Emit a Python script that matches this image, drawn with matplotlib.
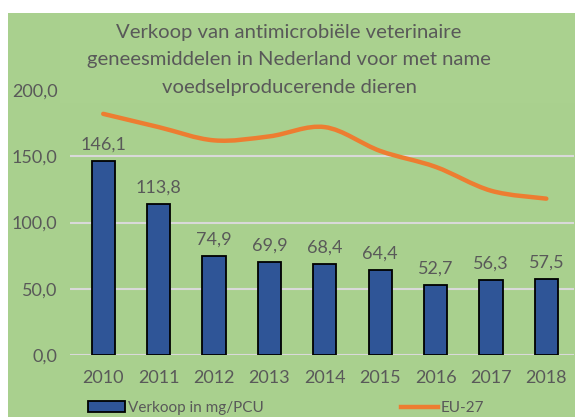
import matplotlib
matplotlib.use("Agg")
from matplotlib import pyplot as plt
from matplotlib.path import Path
from matplotlib.patches import PathPatch, Rectangle
from matplotlib.lines import Line2D

years = ["2010", "2011", "2012", "2013", "2014", "2015", "2016", "2017", "2018"]
verkoop = [146.1, 113.8, 74.9, 69.9, 68.4, 64.4, 52.7, 56.3, 57.5]
eu27 = [182, 172, 162, 165, 172, 154, 142, 124, 118]
title = ("Verkoop van antimicrobiële veterinaire\n"
         "geneesmiddelen in Nederland voor met name\n"
         "voedselproducerende dieren")

GREEN = "#A9D08E"
GREY = "#595959"
plt.rcParams["font.family"] = ["Lato", "DejaVu Sans"]

W, H = 575, 417
fig = plt.figure(figsize=(W / 100, H / 100), dpi=100, facecolor="white")
fig.patches.append(Rectangle((8 / W, 0), 1, (H - 13) / H, transform=fig.transFigure,
                             facecolor=GREEN, edgecolor="none", zorder=-10))

ax = fig.add_axes([70 / W, (H - 355) / H, (574 - 70) / W, (355 - 90) / H])
ax.set_facecolor("none")
x = list(range(len(years)))
bars = ax.bar(x, verkoop, width=0.42, color="#2F5597", edgecolor="black",
              linewidth=1.3, zorder=3)
for xi, v in zip(x, verkoop):
    ax.annotate(("%.1f" % v).replace(".", ","), (xi, v), xytext=(0, 6),
                textcoords="offset points", ha="center", va="bottom",
                fontsize=13, color=GREY)

# smoothed line like the spreadsheet one
pts = list(zip(x, eu27))
verts = [pts[0]]
codes = [Path.MOVETO]
for i in range(len(pts) - 1):
    p0 = pts[max(i - 1, 0)]
    p1 = pts[i]
    p2 = pts[i + 1]
    p3 = pts[min(i + 2, len(pts) - 1)]
    c1 = (p1[0] + (p2[0] - p0[0]) / 6, p1[1] + (p2[1] - p0[1]) / 6)
    c2 = (p2[0] - (p3[0] - p1[0]) / 6, p2[1] - (p3[1] - p1[1]) / 6)
    verts += [c1, c2, p2]
    codes += [Path.CURVE4] * 3
ax.add_patch(PathPatch(Path(verts, codes), facecolor="none", edgecolor="#ED7D31",
                       linewidth=3.2, capstyle="round", zorder=4))

ax.set_xlim(-0.6, 8.5)
ax.set_ylim(0, 200)
ax.set_yticks([0, 50, 100, 150, 200])
ax.set_yticklabels(["0,0", "50,0", "100,0", "150,0", "200,0"])
ax.set_xticks(x)
ax.set_xticklabels(years)
ax.tick_params(length=0, labelsize=13, labelcolor=GREY)
ax.tick_params(axis="x", pad=11)
ax.tick_params(axis="y", pad=9)
ax.grid(True, axis="y", color="#D9D9D9", linewidth=1.5, zorder=0)
ax.set_axisbelow(True)
for s in ax.spines.values():
    s.set_visible(False)

# title box covers the top gridline
fig.patches.append(Rectangle((60 / W, (H - 103) / H), 1, 90 / H, transform=fig.transFigure,
                             facecolor="#AAD18F", edgecolor="none", zorder=5))
fig.text(289 / W, (H - 60) / H, title, ha="center", va="center", fontsize=14.6,
         color=GREY, linespacing=1.72, zorder=6)

line_handle = Line2D([], [], color="#ED7D31", linewidth=3.2)
fig.legend([bars, line_handle], ["Verkoop in mg/PCU", "EU-27"], ncol=2,
           loc="center left", bbox_to_anchor=(88 / W, 9 / H), frameon=False,
           fontsize=11, labelcolor=GREY, handlelength=2.4, handletextpad=0.2,
           columnspacing=9.0, borderpad=0, borderaxespad=0)

fig.savefig("out.png", dpi=100, facecolor="white")
